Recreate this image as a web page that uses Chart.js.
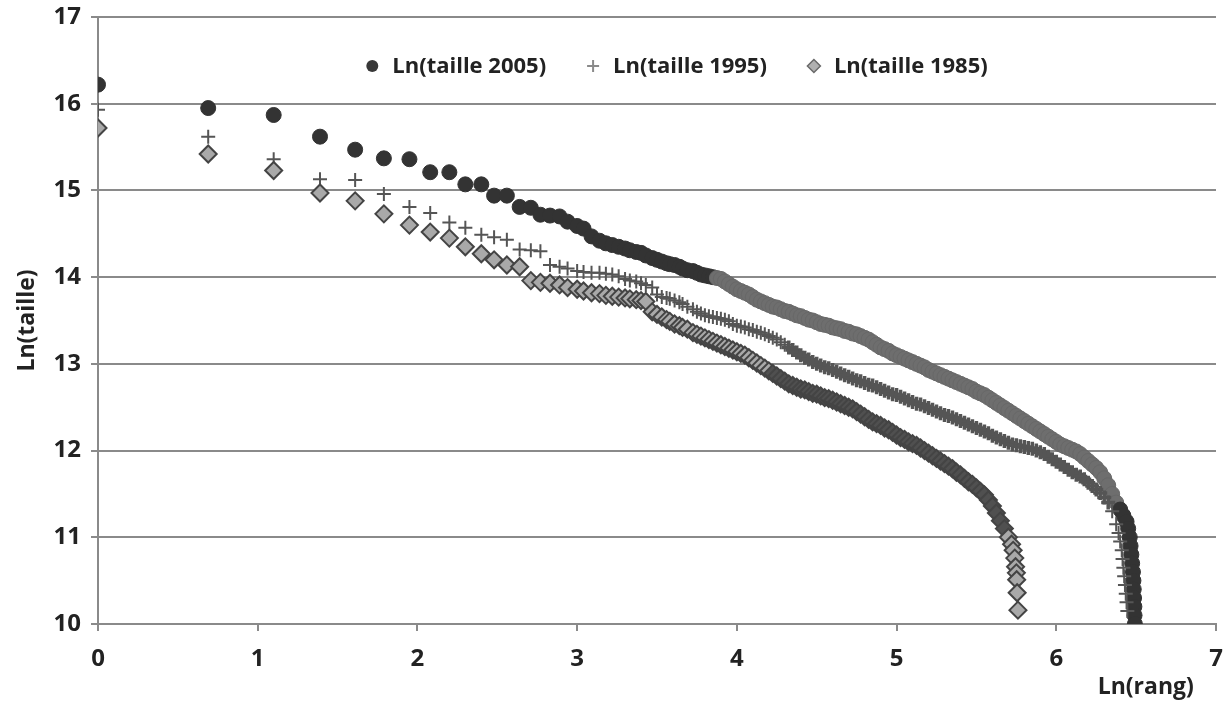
<!DOCTYPE html>
<html lang="fr">
<head>
<meta charset="utf-8">
<title>Ln(taille) selon Ln(rang)</title>
<script src="https://cdn.jsdelivr.net/npm/chart.js@4/dist/chart.umd.min.js"></script>
<style>
  html, body { margin: 0; padding: 0; background: #ffffff; }
  #wrap { width: 1224px; height: 703px; }
</style>
</head>
<body>
<div id="wrap"><canvas id="graphe" width="1224" height="703"></canvas></div>
<script>
// ln(rang) des 40 premières villes
const lnRangTete = [0, 0.69, 1.10, 1.39, 1.61, 1.79, 1.95, 2.08, 2.20, 2.30,
  2.40, 2.48, 2.56, 2.64, 2.71, 2.77, 2.83, 2.89, 2.94, 3.00,
  3.04, 3.09, 3.14, 3.18, 3.22, 3.26, 3.30, 3.33, 3.37, 3.40,
  3.43, 3.47, 3.50, 3.53, 3.56, 3.58, 3.61, 3.64, 3.66, 3.69];

// partie dense du nuage : positions relevées le long des bandes
const lnRangCorps = [3.725, 3.75, 3.775, 3.8, 3.825, 3.85, 3.875, 3.9,
  3.925, 3.95, 3.975, 4, 4.025, 4.05, 4.075, 4.1,
  4.125, 4.15, 4.175, 4.2, 4.225, 4.25, 4.275, 4.3,
  4.325, 4.35, 4.375, 4.4, 4.425, 4.45, 4.475, 4.5,
  4.525, 4.55, 4.575, 4.6, 4.625, 4.65, 4.675, 4.7,
  4.725, 4.75, 4.775, 4.8, 4.825, 4.85, 4.875, 4.9,
  4.925, 4.95, 4.975, 5, 5.025, 5.05, 5.075, 5.1,
  5.125, 5.15, 5.175, 5.2, 5.225, 5.25, 5.275, 5.3,
  5.325, 5.35, 5.375, 5.4, 5.425, 5.45, 5.475, 5.5,
  5.525, 5.55, 5.575, 5.6, 5.625, 5.65, 5.675, 5.7,
  5.725, 5.75, 5.775, 5.8, 5.825, 5.85, 5.875, 5.9,
  5.925, 5.95, 5.975, 6, 6.025, 6.05, 6.075, 6.1,
  6.125, 6.15, 6.175, 6.2, 6.225, 6.25, 6.275, 6.3,
  6.325, 6.35, 6.375, 6.4];

// Ln(taille 2005)
const taille2005Tete = [16.22, 15.95, 15.87, 15.62, 15.47, 15.37, 15.36, 15.21, 15.21, 15.07,
  15.07, 14.94, 14.94, 14.81, 14.80, 14.72, 14.71, 14.70, 14.64, 14.59,
  14.56, 14.47, 14.42, 14.39, 14.37, 14.35, 14.33, 14.31, 14.29, 14.28,
  14.25, 14.22, 14.20, 14.18, 14.16, 14.15, 14.14, 14.12, 14.10, 14.08];
const taille2005Corps = [14.07, 14.05, 14.03, 14.02, 14.01, 14.00, 13.99, 13.98,
  13.95, 13.92, 13.89, 13.86, 13.84, 13.82, 13.80, 13.77,
  13.74, 13.72, 13.70, 13.68, 13.66, 13.65, 13.63, 13.61,
  13.60, 13.58, 13.56, 13.55, 13.53, 13.51, 13.50, 13.48,
  13.46, 13.45, 13.44, 13.42, 13.41, 13.40, 13.38, 13.37,
  13.35, 13.34, 13.32, 13.30, 13.28, 13.25, 13.22, 13.19,
  13.17, 13.15, 13.12, 13.10, 13.08, 13.06, 13.04, 13.02,
  13.00, 12.98, 12.96, 12.93, 12.91, 12.89, 12.87, 12.85,
  12.83, 12.81, 12.79, 12.77, 12.75, 12.73, 12.71, 12.68,
  12.66, 12.64, 12.61, 12.58, 12.55, 12.52, 12.49, 12.46,
  12.43, 12.40, 12.37, 12.34, 12.31, 12.28, 12.25, 12.22,
  12.19, 12.16, 12.13, 12.10, 12.07, 12.05, 12.03, 12.01,
  11.99, 11.96, 11.92, 11.88, 11.84, 11.80, 11.75, 11.68,
  11.60, 11.50, 11.40, 11.32];
const lnRang2005Queue = [6.42, 6.44, 6.45, 6.46, 6.465, 6.47, 6.475, 6.48, 6.483, 6.485, 6.487, 6.489, 6.49, 6.492];
const taille2005Queue = [11.25, 11.18, 11.10, 11.00, 10.90, 10.80, 10.70, 10.60, 10.50, 10.40, 10.30, 10.20, 10.10, 10.00];

// Ln(taille 1995)
const taille1995Tete = [15.93, 15.62, 15.36, 15.13, 15.12, 14.96, 14.81, 14.74, 14.63, 14.57,
  14.49, 14.46, 14.43, 14.32, 14.31, 14.30, 14.14, 14.12, 14.10, 14.07,
  14.06, 14.05, 14.05, 14.04, 14.03, 14.01, 13.98, 13.96, 13.95, 13.93,
  13.91, 13.88, 13.80, 13.77, 13.76, 13.75, 13.73, 13.71, 13.69, 13.66];
const taille1995Corps = [13.63, 13.60, 13.58, 13.56, 13.55, 13.54, 13.53, 13.52,
  13.51, 13.49, 13.46, 13.44, 13.43, 13.42, 13.40, 13.39,
  13.37, 13.36, 13.34, 13.32, 13.30, 13.28, 13.25, 13.22,
  13.19, 13.16, 13.13, 13.10, 13.07, 13.05, 13.02, 13.00,
  12.98, 12.96, 12.95, 12.93, 12.91, 12.89, 12.87, 12.85,
  12.83, 12.81, 12.80, 12.78, 12.76, 12.75, 12.73, 12.71,
  12.69, 12.67, 12.65, 12.64, 12.62, 12.60, 12.58, 12.56,
  12.54, 12.53, 12.51, 12.49, 12.47, 12.45, 12.43, 12.41,
  12.40, 12.38, 12.36, 12.34, 12.32, 12.30, 12.28, 12.26,
  12.24, 12.22, 12.20, 12.17, 12.15, 12.13, 12.11, 12.09,
  12.07, 12.06, 12.05, 12.04, 12.03, 12.02, 12.00, 11.98,
  11.96, 11.93, 11.90, 11.87, 11.84, 11.81, 11.78, 11.75,
  11.72, 11.70, 11.67, 11.63, 11.59, 11.55, 11.51, 11.46,
  11.40, 11.30, 11.15];
const lnRang1995Queue = [6.39, 6.40, 6.41, 6.415, 6.42, 6.425, 6.43, 6.435, 6.44, 6.445];
const taille1995Queue = [11.05, 10.95, 10.85, 10.75, 10.65, 10.55, 10.45, 10.35, 10.25, 10.15];

// Ln(taille 1985)
const taille1985Tete = [15.72, 15.42, 15.23, 14.97, 14.88, 14.73, 14.60, 14.52, 14.45, 14.35,
  14.27, 14.20, 14.14, 14.12, 13.96, 13.94, 13.93, 13.91, 13.88, 13.86,
  13.84, 13.82, 13.81, 13.79, 13.78, 13.77, 13.76, 13.75, 13.74, 13.73,
  13.72, 13.60, 13.57, 13.54, 13.51, 13.49, 13.46, 13.44, 13.42, 13.40];
const taille1985Corps = [13.36, 13.34, 13.32, 13.30, 13.28, 13.26, 13.24, 13.22,
  13.20, 13.18, 13.16, 13.14, 13.12, 13.10, 13.07, 13.04,
  13.01, 12.98, 12.95, 12.92, 12.89, 12.86, 12.83, 12.80,
  12.77, 12.75, 12.73, 12.71, 12.70, 12.68, 12.66, 12.65,
  12.63, 12.61, 12.60, 12.58, 12.56, 12.54, 12.52, 12.50,
  12.48, 12.45, 12.42, 12.39, 12.36, 12.33, 12.31, 12.29,
  12.26, 12.24, 12.21, 12.18, 12.15, 12.13, 12.10, 12.08,
  12.06, 12.03, 12.00, 11.97, 11.94, 11.91, 11.88, 11.85,
  11.82, 11.79, 11.75, 11.72, 11.68, 11.64, 11.61, 11.57,
  11.53, 11.49, 11.43, 11.36, 11.28, 11.19, 11.10, 11.00];
const lnRang1985Queue = [5.72, 5.73, 5.74, 5.745, 5.75, 5.752, 5.755, 5.76];
const taille1985Queue = [10.92, 10.85, 10.76, 10.66, 10.59, 10.51, 10.36, 10.16];

const ticksX = [0, 1, 2, 3, 4, 5, 6, 7];
const ticksY = [10, 11, 12, 13, 14, 15, 16, 17];

// assemble les points {x, y} d'une série
function points(tete, corps, lnQueue, queue) {
  const pts = [];
  tete.forEach((y, i) => pts.push({ x: lnRangTete[i], y: y }));
  corps.forEach((y, i) => pts.push({ x: lnRangCorps[i], y: y }));
  queue.forEach((y, i) => pts.push({ x: lnQueue[i], y: y }));
  return pts;
}

const police = "'Open Sans', 'DejaVu Sans', sans-serif";
const gris = '#8a8a8a';

// dans la partie dense, les marques se chevauchent et forment une bande
const dense = (c, seuil) => c.raw && c.raw.x > seuil && c.raw.y > 11.35;

// titre de l'axe des x, sous les graduations, à droite
const titreAxeX = {
  id: 'titreAxeX',
  afterDraw(chart) {
    const sx = chart.scales.x;
    const ctx = chart.ctx;
    ctx.save();
    ctx.font = 'bold 23px ' + police;
    ctx.fillStyle = '#222';
    ctx.textAlign = 'center';
    ctx.textBaseline = 'middle';
    ctx.fillText('Ln(rang)', sx.getPixelForValue(6.56), (sx.bottom + chart.height) / 2);
    ctx.restore();
  }
};

// légende en haut, à l'intérieur de la zone de tracé
const legendeInterne = {
  id: 'legendeInterne',
  afterDatasetsDraw(chart) {
    const ctx = chart.ctx;
    const area = chart.chartArea;
    ctx.save();
    ctx.font = 'bold 22px ' + police;
    ctx.textBaseline = 'middle';
    ctx.textAlign = 'left';
    const marque = 26, ecart = 41;
    const items = chart.data.datasets.map(ds => ({ ds: ds, w: ctx.measureText(ds.label).width }));
    const total = items.reduce((s, it) => s + marque + it.w, 0) + ecart * (items.length - 1);
    let x = (area.left + area.right) / 2 + 20 - total / 2;
    const y = area.top + 49;
    items.forEach(it => {
      const cx = x + 6;
      ctx.beginPath();
      if (it.ds.pointStyle === 'circle') {
        ctx.arc(cx, y, 6, 0, Math.PI * 2);
        ctx.fillStyle = '#383838';
        ctx.fill();
      } else if (it.ds.pointStyle === 'cross') {
        ctx.moveTo(cx - 6, y); ctx.lineTo(cx + 6, y);
        ctx.moveTo(cx, y - 6); ctx.lineTo(cx, y + 6);
        ctx.strokeStyle = '#8a8a8a';
        ctx.lineWidth = 2;
        ctx.stroke();
      } else {
        ctx.moveTo(cx, y - 6.5); ctx.lineTo(cx + 6.5, y);
        ctx.lineTo(cx, y + 6.5); ctx.lineTo(cx - 6.5, y);
        ctx.closePath();
        ctx.fillStyle = '#b0b0b0';
        ctx.fill();
        ctx.strokeStyle = '#6a6a6a';
        ctx.lineWidth = 1.5;
        ctx.stroke();
      }
      ctx.fillStyle = '#222';
      ctx.fillText(it.ds.label, x + marque, y + 1);
      x += marque + it.w + ecart;
    });
    ctx.restore();
  }
};

new Chart(document.getElementById('graphe').getContext('2d'), {
  type: 'scatter',
  data: {
    datasets: [
      {
        label: 'Ln(taille 2005)',
        data: points(taille2005Tete, taille2005Corps, lnRang2005Queue, taille2005Queue),
        pointStyle: 'circle',
        pointRadius: 7.5,
        backgroundColor: c => (dense(c, 3.85) ? '#6e6e6e' : '#333333'),
        borderColor: c => (dense(c, 3.85) ? '#686868' : '#333333'),
        borderWidth: 1,
        order: 2
      },
      {
        label: 'Ln(taille 1995)',
        data: points(taille1995Tete, taille1995Corps, lnRang1995Queue, taille1995Queue),
        pointStyle: 'cross',
        pointRadius: 7,
        borderColor: '#555555',
        backgroundColor: '#555555',
        borderWidth: c => (dense(c, 4.3) ? 3.5 : 2),
        order: 1
      },
      {
        label: 'Ln(taille 1985)',
        data: points(taille1985Tete, taille1985Corps, lnRang1985Queue, taille1985Queue),
        pointStyle: 'rectRot',
        pointRadius: 8.5,
        backgroundColor: c => (c.raw && c.raw.x > 4.2 && c.raw.y > 11.0 ? '#505050' : '#a9a9a9'),
        borderColor: '#444444',
        borderWidth: 2,
        order: 0
      }
    ]
  },
  options: {
    responsive: false,
    animation: false,
    events: [],
    layout: { autoPadding: false, padding: { left: 14, right: 0, top: 0, bottom: 32 } },
    scales: {
      x: {
        type: 'linear',
        min: 0,
        max: 7,
        afterBuildTicks: s => { s.ticks = ticksX.map(v => ({ value: v })); },
        // hauteur fixe de l'axe et petite marge à droite pour le « 7 »
        afterFit: s => { s.height = 47; s.paddingRight = 8; s.paddingLeft = 0; },
        ticks: { font: { family: police, size: 24, weight: 'bold' }, color: '#222', padding: 14 },
        grid: { drawOnChartArea: false, drawTicks: true, tickLength: 7, color: gris, lineWidth: 2 },
        border: { color: gris, width: 2 }
      },
      y: {
        type: 'linear',
        min: 10,
        max: 17,
        afterBuildTicks: s => { s.ticks = ticksY.map(v => ({ value: v })); },
        afterFit: s => { s.width = 84; s.paddingTop = 17; s.paddingBottom = 0; },
        ticks: { font: { family: police, size: 24, weight: 'bold' }, color: '#222', padding: 10 },
        grid: { color: gris, lineWidth: 2, tickLength: 7 },
        border: { color: gris, width: 2 },
        title: {
          display: true,
          text: 'Ln(taille)',
          font: { family: police, size: 23, weight: 'bold' },
          color: '#222',
          padding: { top: 0, bottom: 12 }
        }
      }
    },
    plugins: {
      legend: { display: false },
      tooltip: { enabled: false }
    }
  },
  plugins: [legendeInterne, titreAxeX]
});
</script>
</body>
</html>
